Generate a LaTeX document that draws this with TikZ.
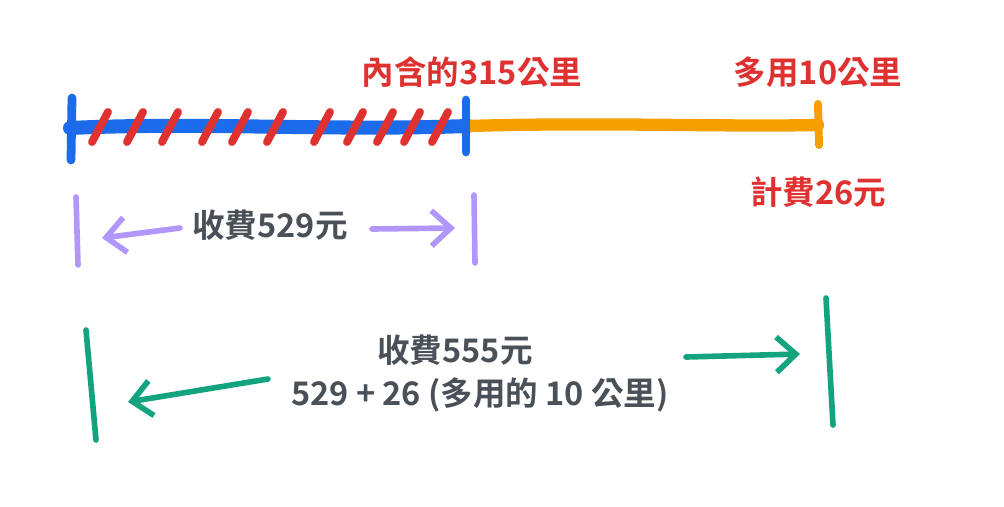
\documentclass[tikz,border=0pt]{standalone}
\usepackage{fontspec}
\setmainfont{Noto Sans CJK TC}[BoldFont={Noto Sans CJK TC Bold}]
\usetikzlibrary{arrows.meta}
\definecolor{cblue}{HTML}{1C6BEA}
\definecolor{cred}{HTML}{E03131}
\definecolor{corange}{HTML}{F59F00}
\definecolor{cpurple}{HTML}{B197FC}
\definecolor{cgreen}{HTML}{14A37F}
\definecolor{ctext}{HTML}{495057}
\begin{document}
\begin{tikzpicture}[x=0.02cm,y=-0.02cm,
  lbl/.style={font=\bfseries\fontsize{18.5}{22}\selectfont},
  redlbl/.style={lbl,text=cred},
  graylbl/.style={lbl,text=ctext,align=center},
  pen/.style={line width=3.2pt,line cap=round},
  arr/.style={pen,-{Straight Barb[length=11pt,width=20pt]}}]
\useasboundingbox (0,0) rectangle (1004,507);
% top bar
\coordinate (b0) at (70,128); \coordinate (b1) at (468,126); \coordinate (o1) at (818,125);
\draw[pen,line width=8pt,cblue] (b0) .. controls (200,122) and (330,131) .. (b1);
\draw[pen,line width=7pt,corange] (b1) .. controls (600,122) and (720,127) .. (o1);
\draw[pen,line width=5pt,cblue] (72,98) -- (71,160);
\draw[pen,line width=5pt,cblue] (466,100) -- (466,152);
\draw[pen,line width=4.5pt,corange] (818,104) -- (819,145);
\foreach \x in {100,135,170,210,240,275,322,355,385,412,440}
  \draw[pen,line width=4.5pt,cred] (\x-8,142) -- (\x+8,112);
\node[redlbl] (t1) at (472,72) {內含的315公里};
\node[redlbl] (t2) at (818,72) {多用10公里};
\node[redlbl] (t3) at (818,192) {計費26元};
% purple
\coordinate (p0a) at (76,197); \coordinate (p0b) at (78,265);
\coordinate (p1a) at (474,195); \coordinate (p1b) at (475,263);
\draw[pen,cpurple] (p0a) -- (p0b);
\draw[pen,cpurple] (p1a) -- (p1b);
\node[graylbl] (m1) at (270,225) {收費529元};
\draw[arr,cpurple] (180,228) -- (102,238);
\draw[arr,cpurple] (372,229) -- (455,228);
% green
\draw[pen,cgreen] (86,330) -- (96,440);
\draw[pen,cgreen] (826,298) -- (833,425);
\node[graylbl] (m2) at (455,350) {收費555元};
\node[graylbl] (m3) at (480,395) {529 + 26 (多用的 10 公里)};
\draw[arr,cgreen] (268,379) -- (128,402);
\draw[arr,cgreen] (686,357) -- (800,354);
\end{tikzpicture}
\end{document}
